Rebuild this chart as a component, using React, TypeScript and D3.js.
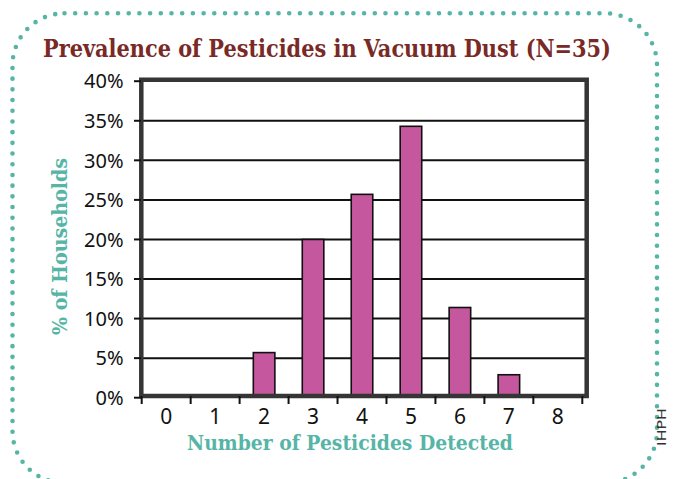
import * as d3 from "d3";
import { useEffect, useRef } from "react";

const categories = ["0", "1", "2", "3", "4", "5", "6", "7", "8"];
const percentHouseholds = [0, 0, 5.7, 20, 25.7, 34.3, 11.4, 2.9, 0];
const yTicks = [0, 5, 10, 15, 20, 25, 30, 35, 40];

const title = "Prevalence of Pesticides in Vacuum Dust (N=35)";
const yTitle = "% of Households";
const xTitle = "Number of Pesticides Detected";
const credit = "IHPH";

export default function App() {
  const svgRef = useRef<SVGSVGElement | null>(null);

  useEffect(() => {
    const svg = d3.select(svgRef.current);
    const width = 676;
    const height = 479;
    const teal = "#56b5a6";
    const frame = "#353535";
    const slab = "'DejaVu Serif Condensed', 'DejaVu Serif'";

    svg.selectAll("*").remove();
    svg.attr("width", width).attr("height", height);

    svg.append("rect").attr("width", width).attr("height", height).attr("fill", "#fff");

    // dotted rounded border
    svg
      .append("rect")
      .attr("x", 12.5)
      .attr("y", 13.3)
      .attr("width", 657 - 12.5)
      .attr("height", 483 - 13.3)
      .attr("rx", 52)
      .attr("fill", "none")
      .attr("stroke", teal)
      .attr("stroke-width", 4.6)
      .attr("stroke-linecap", "round")
      .attr("stroke-dasharray", "0 10.7");

    const x = d3
      .scaleBand()
      .domain(categories)
      .range([141.7, 582.3])
      .paddingInner(0.56)
      .paddingOuter(0.28);
    const step = x.step();

    const y = d3.scaleLinear().domain([0, 40]).range([397.7, 81.2]);

    // gridlines
    svg
      .selectAll(".grid")
      .data(yTicks.slice(1, -1))
      .enter()
      .append("line")
      .attr("x1", 141)
      .attr("x2", 586)
      .attr("y1", (d) => y(d))
      .attr("y2", (d) => y(d))
      .attr("stroke", "#111")
      .attr("stroke-width", 2);

    // bars
    svg
      .selectAll(".bar")
      .data(percentHouseholds.map((v, i) => ({ v, c: categories[i] })).filter((d) => d.v > 0))
      .enter()
      .append("rect")
      .attr("x", (d) => x(d.c)!)
      .attr("width", x.bandwidth())
      .attr("y", (d) => y(d.v))
      .attr("height", (d) => 396 - y(d.v))
      .attr("fill", "#c5579e")
      .attr("stroke", "#111")
      .attr("stroke-width", 1.6);

    // frame
    svg
      .append("path")
      .attr("d", "M141.3,79.7H586.7V396H141.3Z")
      .attr("fill", "none")
      .attr("stroke", frame)
      .attr("stroke-width", 4.5);

    // y ticks + labels
    svg
      .selectAll(".ytick")
      .data(yTicks)
      .enter()
      .append("line")
      .attr("x1", 134)
      .attr("x2", 141)
      .attr("y1", (d) => y(d))
      .attr("y2", (d) => y(d))
      .attr("stroke", "#111")
      .attr("stroke-width", 2);

    svg
      .selectAll(".ylabel")
      .data(yTicks)
      .enter()
      .append("text")
      .attr("x", 123.5)
      .attr("y", (d) => y(d) + 7.2)
      .attr("text-anchor", "end")
      .attr("font-family", "Noto Sans")
      .attr("font-size", "20px")
      .attr("fill", "#111")
      .text((d) => `${d}%`);

    // x ticks + labels
    svg
      .selectAll(".xtick")
      .data(d3.range(categories.length + 1))
      .enter()
      .append("line")
      .attr("x1", (i) => 141.7 + i * step)
      .attr("x2", (i) => 141.7 + i * step)
      .attr("y1", 396)
      .attr("y2", 404)
      .attr("stroke", "#111")
      .attr("stroke-width", 2);

    svg
      .selectAll(".xlabel")
      .data(categories)
      .enter()
      .append("text")
      .attr("x", (d) => x(d)! + x.bandwidth() / 2)
      .attr("y", 424)
      .attr("text-anchor", "middle")
      .attr("font-family", "Noto Sans")
      .attr("font-size", "21px")
      .attr("fill", "#111")
      .text((d) => d);

    // titles
    svg
      .append("text")
      .attr("x", 43)
      .attr("y", 57)
      .attr("font-family", slab)
      .attr("font-weight", "bold")
      .attr("font-size", "24px")
      .attr("fill", "#7a2a26")
      .attr("textLength", 568)
      .attr("lengthAdjust", "spacingAndGlyphs")
      .text(title);

    svg
      .append("text")
      .attr("transform", "translate(67,246.5) rotate(-90)")
      .attr("text-anchor", "middle")
      .attr("font-family", slab)
      .attr("font-weight", "bold")
      .attr("font-size", "21px")
      .attr("fill", teal)
      .attr("textLength", 177)
      .attr("lengthAdjust", "spacingAndGlyphs")
      .text(yTitle);

    svg
      .append("text")
      .attr("x", 350)
      .attr("y", 449.5)
      .attr("text-anchor", "middle")
      .attr("font-family", slab)
      .attr("font-weight", "bold")
      .attr("font-size", "21px")
      .attr("fill", teal)
      .attr("textLength", 326)
      .attr("lengthAdjust", "spacingAndGlyphs")
      .text(xTitle);

    svg
      .append("text")
      .attr("transform", "translate(665.5,427) rotate(-90)")
      .attr("text-anchor", "middle")
      .attr("font-family", "DejaVu Sans")
      .attr("font-size", "13px")
      .attr("fill", "#333")
      .attr("textLength", 38)
      .attr("lengthAdjust", "spacingAndGlyphs")
      .text(credit);
  }, []);

  return <svg ref={svgRef} style={{ position: "absolute", left: 0, top: 0 }}></svg>;
}
